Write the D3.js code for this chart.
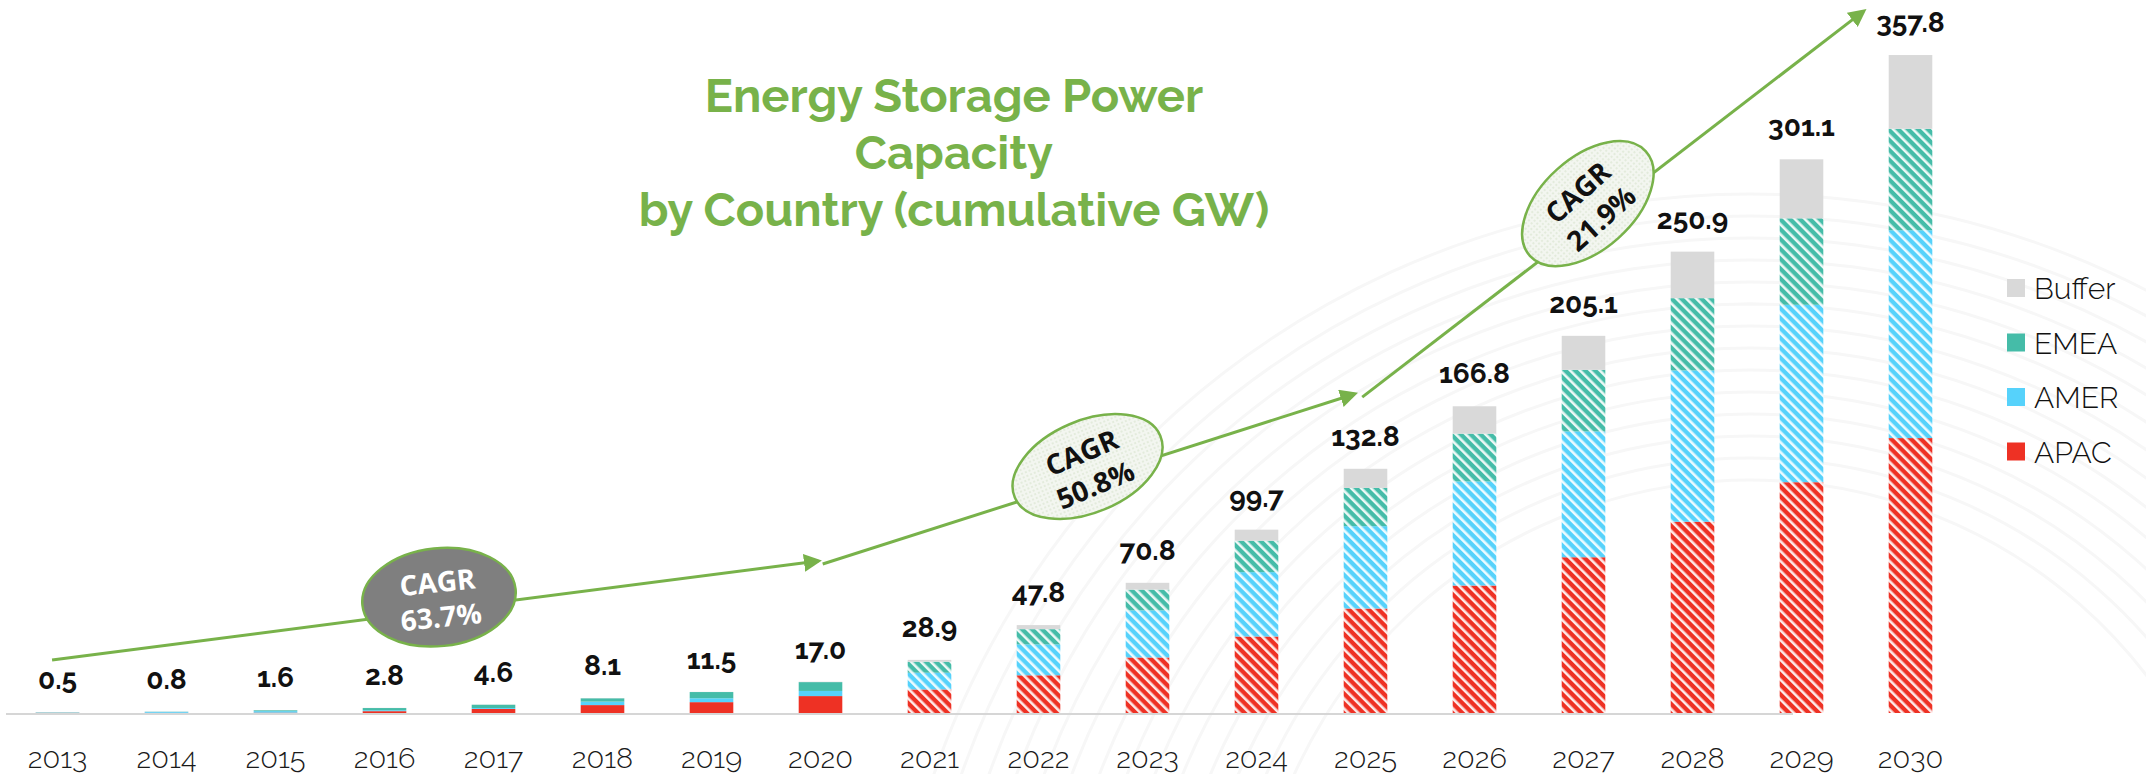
<!DOCTYPE html>
<html>
<head>
<meta charset="utf-8">
<script src="https://cdn.jsdelivr.net/npm/d3@7"></script>
<style>
body { margin: 0; background: #fff; }
svg { display: block; }
</style>
</head>
<body>
<div id="chart"></div>
<script>
// Chart data
var years = ["2013", "2014", "2015", "2016", "2017", "2018", "2019", "2020", "2021",
             "2022", "2023", "2024", "2025", "2026", "2027", "2028", "2029", "2030"];
var totals = [0.5, 0.8, 1.6, 2.8, 4.6, 8.1, 11.5, 17.0, 28.9, 47.8, 70.8, 99.7, 132.8, 166.8, 205.1, 250.9, 301.1, 357.8];
var apac   = [0.1, 0.1, 0.2, 1.0, 2.2, 4.3, 5.9, 9.2, 12.8, 20.5, 30.2, 41.6, 56.8, 69.3, 84.7, 104.0, 125.5, 149.5];
var amer   = [0.2, 0.5, 0.8, 0.5, 0.5, 1.9, 2.1, 2.8, 9.1, 16.8, 25.6, 35.0, 44.8, 56.6, 68.4, 82.3, 96.5, 113.0];
var emea   = [0.1, 0.1, 0.5, 1.2, 1.8, 1.8, 3.4, 4.8, 6.0, 8.3, 11.3, 17.1, 20.8, 26.0, 33.5, 39.3, 47.0, 55.2];
var buffer = [0.1, 0.1, 0.1, 0.1, 0.1, 0.1, 0.1, 0.2, 1.0, 2.2, 3.7, 6.0, 10.4, 14.9, 18.5, 25.3, 32.1, 40.1];
var seriesKeys = ["APAC", "AMER", "EMEA", "Buffer"];
var legendKeys = ["Buffer", "EMEA", "AMER", "APAC"];
var firstForecastYear = "2021";   // bars from here on are hatched
var titleLines = ["Energy Storage Power", "Capacity", "by Country (cumulative GW)"];

// CAGR arrows, in [year index, GW]
var cagrArrows = [
    {from: [-0.05, 28.8], to: [6.98, 82.7]},
    {from: [7.02, 81.0], to: [11.9, 173.5]},
    {from: [11.97, 171.8], to: [16.57, 381.7]}
];
var cagrValues = ["63.7%", "50.8%", "21.9%"];
var cagrBubbles = [
    {at: [3.5, 63], rx: 77, ry: 49, angle: -6, dark: true},
    {at: [9.45, 134], rx: 79, ry: 46, angle: -23, dark: false},
    {at: [14.04, 277], rx: 78, ry: 46, angle: -42, dark: false}
];

var colors = {APAC: "#ee3124", AMER: "#56d2fb", EMEA: "#45bca8", Buffer: "#d9d9d9"};
var green = "#78b24a";

var width = 2146;
var height = 774;

var svg = d3.select("#chart").append("svg").attr("width", width).attr("height", height);
var defs = svg.append("defs");

// hatch fills for forecast bars
function addHatch(key) {
    var p = defs.append("pattern")
        .attr("id", "hatch-" + key)
        .attr("patternUnits", "userSpaceOnUse")
        .attr("width", 7).attr("height", 7)
        .attr("patternTransform", "rotate(-45)");
    p.append("rect").attr("width", 7).attr("height", 7).attr("fill", colors[key]);
    p.append("rect").attr("width", 2.6).attr("height", 7).attr("fill", "#fff").attr("opacity", 0.9);
}
["APAC", "AMER", "EMEA"].forEach(addHatch);

// faint pattern for the pale bubbles
var bp = defs.append("pattern").attr("id", "bubbleFill").attr("patternUnits", "userSpaceOnUse")
    .attr("width", 4).attr("height", 4);
bp.append("rect").attr("width", 4).attr("height", 4).attr("fill", "#f3f6f0");
bp.append("rect").attr("width", 2).attr("height", 2).attr("fill", "#e3ebdc");

defs.append("marker")
    .attr("id", "arrowHead")
    .attr("viewBox", "0 0 10 10")
    .attr("refX", 8).attr("refY", 5)
    .attr("markerWidth", 6).attr("markerHeight", 6)
    .attr("markerUnits", "strokeWidth")
    .attr("orient", "auto")
    .append("path").attr("d", "M0,0 L10,5 L0,10 Z").attr("fill", green);

// very faint background arcs
var bg = svg.append("g").attr("fill", "none").attr("stroke", "#f7f7f7").attr("stroke-width", 3);
d3.range(14).forEach(function(i) {
    var r = 500 + i * 28;
    bg.append("path")
        .attr("d", d3.arc()({innerRadius: r, outerRadius: r, startAngle: -1.3, endAngle: 1.0}))
        .attr("transform", "translate(1750," + (980 + i * 6) + ")");
});

// scales
var x = d3.scaleBand().domain(years).range([3, 1965]).paddingInner(0.6).paddingOuter(0.3);
var y = d3.scaleLinear().domain([0, 360]).range([713, 51]);

function xAt(i) {
    return x(years[0]) + x.bandwidth() / 2 + i * x.step();
}

// stacked data
var rows = years.map(function(yr, i) {
    return {year: yr, APAC: apac[i], AMER: amer[i], EMEA: emea[i], Buffer: buffer[i], total: totals[i]};
});
var stacked = d3.stack().keys(seriesKeys)(rows);

var layers = svg.append("g").attr("class", "bars")
    .selectAll("g")
    .data(stacked)
    .enter().append("g");

layers.selectAll("rect")
    .data(function(d) { return d.map(function(p) { return {key: d.key, p: p}; }); })
    .enter().append("rect")
    .attr("x", function(d) { return x(d.p.data.year); })
    .attr("width", x.bandwidth())
    .attr("y", function(d) { return y(d.p[1]); })
    .attr("height", function(d) { return Math.max(0, y(d.p[0]) - y(d.p[1])); })
    .attr("fill", function(d) {
        if (d.key != "Buffer" && +d.p.data.year >= +firstForecastYear) {
            return "url(#hatch-" + d.key + ")";
        }
        return colors[d.key];
    });

// baseline
svg.append("line")
    .attr("x1", 6).attr("x2", 1793)
    .attr("y1", y(0) + 1).attr("y2", y(0) + 1)
    .attr("stroke", "#d6d6d6").attr("stroke-width", 2);

// x axis labels
var xAxis = d3.axisBottom(x).tickSize(0).tickPadding(0);
var axisG = svg.append("g").attr("transform", "translate(0," + 768 + ")").call(xAxis);
axisG.select(".domain").remove();
axisG.selectAll("text")
    .attr("dy", 0)
    .style("font-family", "Raleway, Lato, sans-serif")
    .style("font-weight", 300)
    .style("font-size", "29px")
    .style("fill", "#1a1a1a");

// totals
svg.append("g").selectAll("text")
    .data(rows)
    .enter().append("text")
    .attr("x", function(d) { return x(d.year) + x.bandwidth() / 2; })
    .attr("y", function(d) { return y(d.total) - 23; })
    .attr("text-anchor", "middle")
    .style("font-family", "Raleway, Lato, sans-serif")
    .style("font-weight", 700)
    .style("font-size", "28px")
    .style("fill", "#111")
    .text(function(d) { return d.total.toFixed(1); });

// title
svg.append("g").selectAll("text")
    .data(titleLines)
    .enter().append("text")
    .attr("x", 954)
    .attr("y", function(d, i) { return 112 + i * 57; })
    .attr("text-anchor", "middle")
    .style("font-family", "Raleway, Lato, sans-serif")
    .style("font-weight", 700)
    .style("font-size", "47px")
    .style("fill", green)
    .text(function(d) { return d; });

// CAGR arrows
svg.append("g").selectAll("line")
    .data(cagrArrows)
    .enter().append("line")
    .attr("x1", function(d) { return xAt(d.from[0]); })
    .attr("y1", function(d) { return y(d.from[1]); })
    .attr("x2", function(d) { return xAt(d.to[0]); })
    .attr("y2", function(d) { return y(d.to[1]); })
    .attr("stroke", green)
    .attr("stroke-width", 3)
    .attr("marker-end", "url(#arrowHead)");

// CAGR bubbles
var bubble = svg.append("g").selectAll("g")
    .data(cagrBubbles)
    .enter().append("g")
    .attr("transform", function(d) {
        return "translate(" + xAt(d.at[0]) + "," + y(d.at[1]) + ") rotate(" + d.angle + ")";
    });

bubble.append("ellipse")
    .attr("rx", function(d) { return d.rx; })
    .attr("ry", function(d) { return d.ry; })
    .attr("fill", function(d) { return d.dark ? "#7f7f7f" : "url(#bubbleFill)"; })
    .attr("stroke", green)
    .attr("stroke-width", 2.5);

bubble.append("text")
    .attr("text-anchor", "middle")
    .attr("y", -5)
    .style("font-family", "'Open Sans', sans-serif")
    .style("font-weight", 700)
    .style("font-size", "28px")
    .style("fill", function(d) { return d.dark ? "#fff" : "#111"; })
    .text("CAGR");

bubble.append("text")
    .attr("text-anchor", "middle")
    .attr("y", 30)
    .style("font-family", "'Open Sans', sans-serif")
    .style("font-weight", 700)
    .style("font-size", "28px")
    .style("fill", function(d) { return d.dark ? "#fff" : "#111"; })
    .text(function(d, i) { return cagrValues[i]; });

// legend
var legend = svg.append("g").selectAll("g")
    .data(legendKeys)
    .enter().append("g")
    .attr("transform", function(d, i) { return "translate(2007," + (279 + i * 54.5) + ")"; });

legend.append("rect")
    .attr("width", 18).attr("height", 18)
    .attr("fill", function(d) { return colors[d]; });

legend.append("text")
    .attr("x", 27)
    .attr("y", 20)
    .style("font-family", "Raleway, Lato, sans-serif")
    .style("font-weight", 300)
    .style("font-size", "30px")
    .style("fill", "#111")
    .text(function(d) { return d; });
</script>
</body>
</html>
